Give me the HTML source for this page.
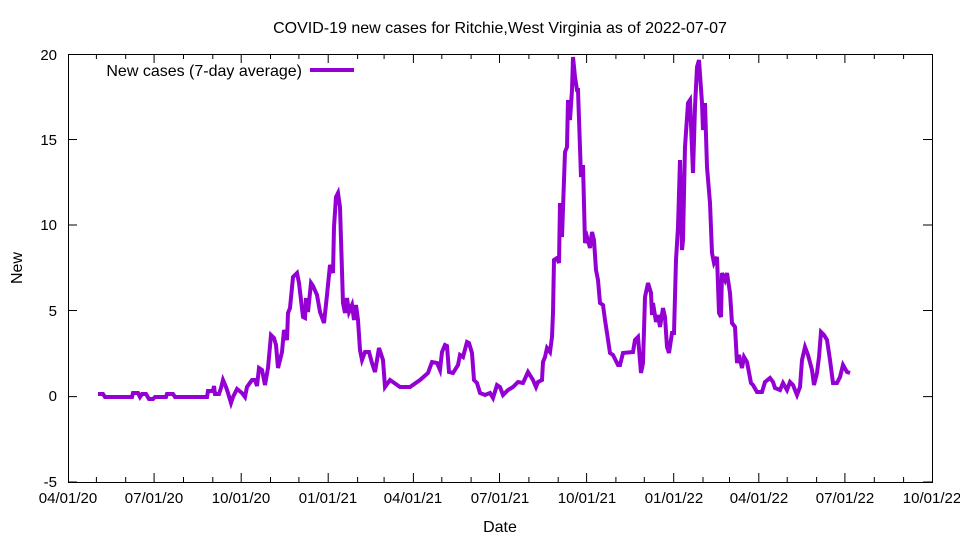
<!DOCTYPE html>
<html><head><meta charset="utf-8"><style>
html,body{margin:0;padding:0;background:#fff}
svg{display:block}
text{font-family:"Liberation Sans",sans-serif;font-size:15px;fill:#000}
.big{font-size:16px}
</style></head><body>
<svg width="960" height="540" viewBox="0 0 960 540" xmlns="http://www.w3.org/2000/svg">
<rect width="960" height="540" fill="#fff"/>
<text class="big" x="500" y="33" text-anchor="middle">COVID-19 new cases for Ritchie,West Virginia as of 2022-07-07</text>
<g stroke="#000" stroke-width="1" fill="none">
<rect x="68.5" y="54.5" width="864" height="428"/>
<path d="M68 396.6h9M932 396.6h-9M68 54.5h9M932 54.5h-9M68 139.5h9M932 139.5h-9M68 225h9M932 225h-9M68 310.5h9M932 310.5h-9M68 482h9M932 482h-9"/>
<path d="M154.1 482v-9M241.2 482v-9M328.2 482v-9M413.4 482v-9M499.5 482v-9M586.6 482v-9M673.7 482v-9M758.8 482v-9M844.9 482v-9
M154.1 54v9M241.2 54v9M328.2 54v9M413.4 54v9M499.5 54v9M586.6 54v9M673.7 54v9M758.8 54v9M844.9 54v9"/>
<path d="M96.4 482v-5M125.7 482v-5M183.5 482v-5M212.8 482v-5M270.5 482v-5M298.9 482v-5M357.6 482v-5M384.1 482v-5M441.8 482v-5M471.1 482v-5M528.9 482v-5M558.2 482v-5M615.9 482v-5M644.3 482v-5M703 482v-5M729.5 482v-5M787.2 482v-5M816.6 482v-5M874.3 482v-5M903.6 482v-5
M96.4 54v5M125.7 54v5M183.5 54v5M212.8 54v5M270.5 54v5M298.9 54v5M357.6 54v5M384.1 54v5M441.8 54v5M471.1 54v5M528.9 54v5M558.2 54v5M615.9 54v5M644.3 54v5M703 54v5M729.5 54v5M787.2 54v5M816.6 54v5M874.3 54v5M903.6 54v5"/>
</g>
<g text-anchor="end">
<text x="57" y="60">20</text><text x="57" y="145">15</text><text x="57" y="230">10</text>
<text x="57" y="316">5</text><text x="57" y="401">0</text><text x="57" y="487">-5</text>
</g>
<g text-anchor="middle">
<text x="68" y="503">04/01/20</text><text x="154" y="503">07/01/20</text><text x="241" y="503">10/01/20</text>
<text x="328" y="503">01/01/21</text><text x="413" y="503">04/01/21</text><text x="500" y="503">07/01/21</text>
<text x="587" y="503">10/01/21</text><text x="674" y="503">01/01/22</text><text x="759" y="503">04/01/22</text>
<text x="845" y="503">07/01/22</text><text x="932" y="503">10/01/22</text>
<text class="big" x="500" y="532">Date</text>
<text class="big" x="22" y="268" transform="rotate(-90 22 268)">New</text>
</g>
<text class="big" x="302" y="76" text-anchor="end">New cases (7-day average)</text>
<line x1="310" y1="70" x2="354" y2="70" stroke="#9400d3" stroke-width="4"/>
<polyline fill="none" stroke="#9400d3" stroke-width="4" stroke-linejoin="miter" points="
98,394 103,394 105,397 132,397 133,393 138,393 140,397 142,394 146,394 149,399 153,399 155,397 166,397 167,394 173,394 175,397 207,397 208,391 213,391 214,386 215,394 219,394 221,388 223,380 226,387 228,393 231,403 233,397 237,389 242,393 245,397 247,387 252,380 255,380 257,386 259,368 262,370 265,385 268,368 271,335 274,338 276,345 278,368 282,352 284,330 287,340 288,313 290,308 293,277 297,273 299,283 303,317 305,318 306,298 308,312 311,283 313,286 317,295 320,312 324,323 327,295 330,265 333,273 334,227 336,197 338,193 340,207 343,303 345,313 347,298 349,312 352,305 354,320 356,305 358,320 360,350 362,360 365,352 369,352 372,363 375,372 379,348 383,360 385,387 390,380 400,387 410,387 420,380 428,373 432,362 437,363 440,370 442,352 445,345 447,346 449,372 453,373 458,365 460,355 463,357 467,342 469,343 472,353 474,380 477,383 480,393 485,395 490,393 493,398 497,385 500,387 503,395 508,390 513,387 518,382 523,383 528,372 533,380 536,387 538,382 542,380 543,362 545,357 547,348 550,352 552,337 553,313 554,260 557,258 559,263 560,203 562,237 564,180 565,152 567,147 568,100 570,120 572,90 573,57 575,77 577,90 578,90 581,177 583,165 585,243 587,237 590,248 592,232 594,240 596,270 598,280 600,303 603,305 605,320 607,333 610,353 613,355 618,365 620,365 623,353 633,352 635,340 638,337 641,373 643,363 645,297 648,283 651,293 652,315 653,303 656,322 658,315 660,327 663,308 665,317 667,347 669,353 672,333 674,333 676,260 678,227 680,160 682,250 683,240 685,147 688,103 690,100 693,173 695,107 697,67 699,60 702,103 703,130 705,103 707,167 710,203 712,253 714,263 717,257 719,313 721,317 722,273 725,280 727,273 730,293 732,323 735,327 737,363 739,355 742,368 744,357 747,362 751,383 753,385 757,392 762,392 765,382 770,378 773,382 775,388 780,390 783,383 787,390 790,382 793,385 797,395 800,387 802,360 805,347 808,355 812,370 814,385 817,373 819,357 821,332 824,335 827,340 830,360 833,383 837,383 840,377 843,365 847,372 850,373"/>
</svg>
</body></html>
